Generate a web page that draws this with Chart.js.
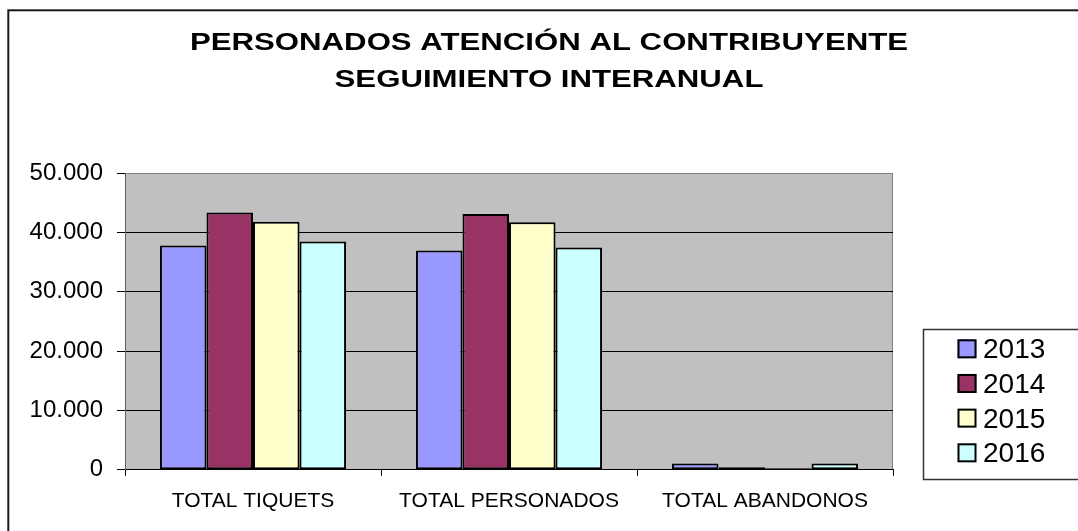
<!DOCTYPE html>
<html lang="es">
<head>
<meta charset="utf-8">
<title>Personados atención al contribuyente</title>
<script src="https://cdn.jsdelivr.net/npm/chart.js@4.4.0/dist/chart.umd.min.js"></script>
<style>
  html, body { margin: 0; padding: 0; background: #fff; }
  .chart-container { position: relative; width: 1078px; height: 531px; overflow: hidden; }
</style>
</head>
<body>
<div class="chart-container"><canvas id="barChart" width="1078" height="531"></canvas></div>
<script>
// datos
const titleLines = ['PERSONADOS ATENCIÓN AL CONTRIBUYENTE', 'SEGUIMIENTO INTERANUAL'];
const categories = ['TOTAL TIQUETS', 'TOTAL PERSONADOS', 'TOTAL ABANDONOS'];
const years = ['2013', '2014', '2015', '2016'];
const values2013 = [37800, 36950, 1050];
const values2014 = [43350, 43100, 450];
const values2015 = [41800, 41700, 280];
const values2016 = [38450, 37450, 1050];
const yearColors = ['#9999FF', '#993366', '#FFFFCC', '#CCFFFF'];

const formatMiles = v => String(v).replace(/\B(?=(\d{3})+(?!\d))/g, '.');

// fondo, marco exterior y area gris del grafico
const frameAndPlot = {
  id: 'frameAndPlot',
  beforeDraw(chart) {
    const { ctx, chartArea: a } = chart;
    ctx.save();
    ctx.fillStyle = '#fff';
    ctx.fillRect(0, 0, chart.width, chart.height);
    ctx.strokeStyle = '#1a1a1a';
    ctx.lineWidth = 2;
    ctx.strokeRect(8.3, 10.3, chart.width + 40, chart.height + 40);
    ctx.fillStyle = '#C0C0C0';
    ctx.fillRect(a.left, a.top, a.right - a.left, a.bottom - a.top);
    ctx.strokeStyle = '#808080';
    ctx.lineWidth = 1;
    ctx.beginPath();
    ctx.moveTo(a.right - 0.5, a.top);
    ctx.lineTo(a.right - 0.5, a.bottom);
    ctx.stroke();
    ctx.restore();
  }
};

// titulo (texto algo ensanchado como en el original)
const wideTitle = {
  id: 'wideTitle',
  afterDraw(chart) {
    const ctx = chart.ctx;
    ctx.save();
    ctx.font = 'bold 23.5px "Liberation Sans", Arial, sans-serif';
    ctx.fillStyle = '#000';
    ctx.textAlign = 'center';
    ctx.textBaseline = 'alphabetic';
    const sx = 718 / ctx.measureText(titleLines[0]).width;
    const baselines = [49.5, 86.7];
    titleLines.forEach((t, i) => {
      ctx.save();
      ctx.translate(549, baselines[i]);
      ctx.scale(sx, 1);
      ctx.fillText(t, 0, 0);
      ctx.restore();
    });
    ctx.restore();
  }
};

// leyenda con recuadro, como en Excel
const boxLegend = {
  id: 'boxLegend',
  afterDraw(chart) {
    const ctx = chart.ctx;
    ctx.save();
    ctx.strokeStyle = '#333';
    ctx.lineWidth = 1.5;
    ctx.strokeRect(923.5, 329.5, 200, 150);
    ctx.font = '28px "Liberation Sans", Arial, sans-serif';
    ctx.textBaseline = 'alphabetic';
    ctx.textAlign = 'left';
    chart.data.datasets.forEach((ds, i) => {
      const top = 339.3 + i * 34.67;
      ctx.fillStyle = ds.backgroundColor;
      ctx.fillRect(957.5, top, 19, 19);
      ctx.strokeStyle = '#000';
      ctx.lineWidth = 2;
      ctx.strokeRect(958.5, top + 1, 17, 17);
      ctx.fillStyle = '#000';
      ctx.fillText(ds.label, 983, top + 19);
    });
    ctx.restore();
  }
};

const seriesValues = [values2013, values2014, values2015, values2016];

new Chart(document.getElementById('barChart').getContext('2d'), {
  type: 'bar',
  data: {
    labels: categories,
    datasets: years.map((y, i) => ({
      label: y,
      data: seriesValues[i],
      backgroundColor: yearColors[i],
      borderColor: '#000',
      borderWidth: 2,
      borderSkipped: false,
      categoryPercentage: 0.727,
      barPercentage: 1
    }))
  },
  options: {
    responsive: false,
    animation: false,
    devicePixelRatio: 1,
    layout: { padding: { top: 173, right: 185, bottom: 4, left: 11 } },
    font: { family: '"Liberation Sans", Arial, sans-serif' },
    plugins: {
      legend: { display: false },
      title: { display: false },
      tooltip: { enabled: false }
    },
    scales: {
      x: {
        ticks: { padding: 13, color: '#000', font: { family: '"Liberation Sans", Arial, sans-serif', size: 21 } },
        grid: { display: true, drawOnChartArea: false, drawTicks: true, tickLength: 6, color: '#000', offset: true },
        border: { color: '#000', width: 1 }
      },
      y: {
        min: 0,
        max: 50000,
        ticks: {
          stepSize: 10000,
          padding: 14,
          color: '#000',
          font: { family: '"Liberation Sans", Arial, sans-serif', size: 24 },
          callback: v => formatMiles(v)
        },
        grid: {
          color: c => (c.tick && c.tick.value === 50000 ? '#808080' : '#000'),
          tickColor: '#000',
          tickLength: 8,
          lineWidth: 1
        },
        border: { color: '#606060', width: 1 },
        afterFit: s => { s.width = 114; }
      }
    }
  },
  plugins: [frameAndPlot, wideTitle, boxLegend]
});
</script>
</body>
</html>
